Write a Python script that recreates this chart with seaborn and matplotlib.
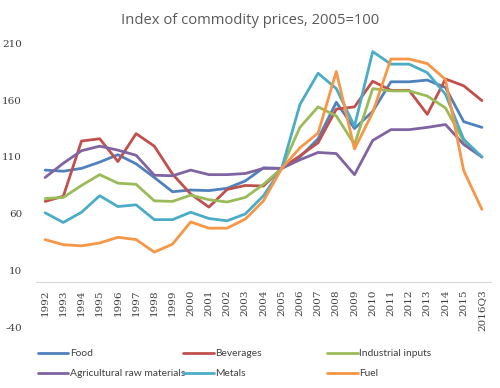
import matplotlib
matplotlib.use("Agg")
import matplotlib.pyplot as plt
import seaborn as sns
import pandas as pd

years = [str(y) for y in range(1992, 2016)] + ["2016Q3"]

food = [98.5, 97.5, 100, 105.5, 112, 104, 92, 79.5, 81, 80.5, 82.5, 89, 100.5,
        100, 110, 126, 158, 135, 150, 176, 176, 177.5, 171, 141, 136]
beverages = [71, 75.5, 124, 126, 106, 130.5, 119.5, 95, 77.5, 66, 81.5, 85, 84.5,
             100, 111, 122.5, 152, 154, 176.5, 168.5, 168.5, 147.5, 178.5, 172.5, 159.5]
industrial = [73.5, 74.5, 85, 94.5, 87, 86, 71.5, 71, 76.5, 72.5, 70.5, 74.5, 86,
              100, 136, 154, 146, 121, 170, 168, 168, 163.5, 153, 124, 110]
agri = [92, 104.5, 115.5, 119.5, 116, 111.5, 94, 93.5, 98.5, 94.5, 94.5, 95.5, 100,
        100, 107.5, 114, 113, 94.5, 124.5, 134, 134, 136, 138.5, 121, 110]
metals = [61, 52.5, 61.5, 76, 66.5, 68, 55, 55, 61.5, 56, 54, 60, 76,
          100, 156, 183.5, 170, 137, 202.5, 191.5, 191.5, 184, 165, 125.5, 110]
fuel = [37.5, 33, 32, 34.5, 39.5, 37.5, 26.5, 33.5, 53, 47.5, 47.5, 55.5, 71.5,
        100, 118, 131, 185, 117, 149, 196, 196, 192, 178, 98, 64]

series_names = ["Food", "Beverages", "Industrial inputs",
                "Agricultural raw materials", "Metals", "Fuel"]
series_values = [food, beverages, industrial, agri, metals, fuel]
colors = ["#4F81BD", "#C0504D", "#9BBB59", "#8064A2", "#4BACC6", "#F79646"]
yticks = [-40, 10, 60, 110, 160, 210]

rows = []
for name, vals in zip(series_names, series_values):
    for i, (yr, v) in enumerate(zip(years, vals)):
        rows.append({"pos": i, "year": yr, "value": v, "series": name})
df = pd.DataFrame(rows)

sns.set_style("white")
fig = plt.figure(figsize=(5.0, 3.88), dpi=100)
ax = fig.add_axes([0.072, 0.155, 0.91, 0.734])

sns.lineplot(data=df, x="pos", y="value", hue="series", hue_order=series_names,
             palette=colors, linewidth=2.0, ax=ax, legend=False, sort=False)

for s in ["top", "right", "left"]:
    ax.spines[s].set_visible(False)
ax.spines["bottom"].set_position(("data", 0))
ax.spines["bottom"].set_color("#D9D9D9")
ax.spines["bottom"].set_linewidth(0.8)

ax.set_xlim(-0.5, len(years) - 0.5)
ax.set_ylim(-40, 210)
ax.set_yticks(yticks)
ax.set_yticklabels([str(t) for t in yticks], fontfamily="DejaVu Serif",
                   fontsize=7.5, color="#404040")
ax.set_xticks(range(len(years)))
ax.set_xticklabels(years, rotation=90, fontfamily="DejaVu Serif",
                   fontsize=7.5, color="#404040")
ax.tick_params(axis="x", length=0, pad=5)
ax.tick_params(axis="y", length=0, pad=10)
ax.set_xlabel("")
ax.set_ylabel("")

fig.suptitle("Index of commodity prices, 2005=100", x=0.5, y=0.967,
             fontsize=10.6, color="#595959", fontfamily="Open Sans")

col_x = [0.075, 0.366, 0.654]
for c in range(3):
    idx = [c, c + 3]
    handles = [plt.Line2D([], [], color=colors[i], linewidth=2.0) for i in idx]
    labels = [series_names[i] for i in idx]
    fig.legend(handles, labels, loc="upper left",
               bbox_to_anchor=(col_x[c], 0.1), frameon=False,
               handlelength=3.0, handletextpad=0.15, labelspacing=1.05,
               borderpad=0, borderaxespad=0,
               prop={"family": "Lato", "size": 7.4},
               labelcolor="#404040")

fig.savefig("out.png", dpi=100)
